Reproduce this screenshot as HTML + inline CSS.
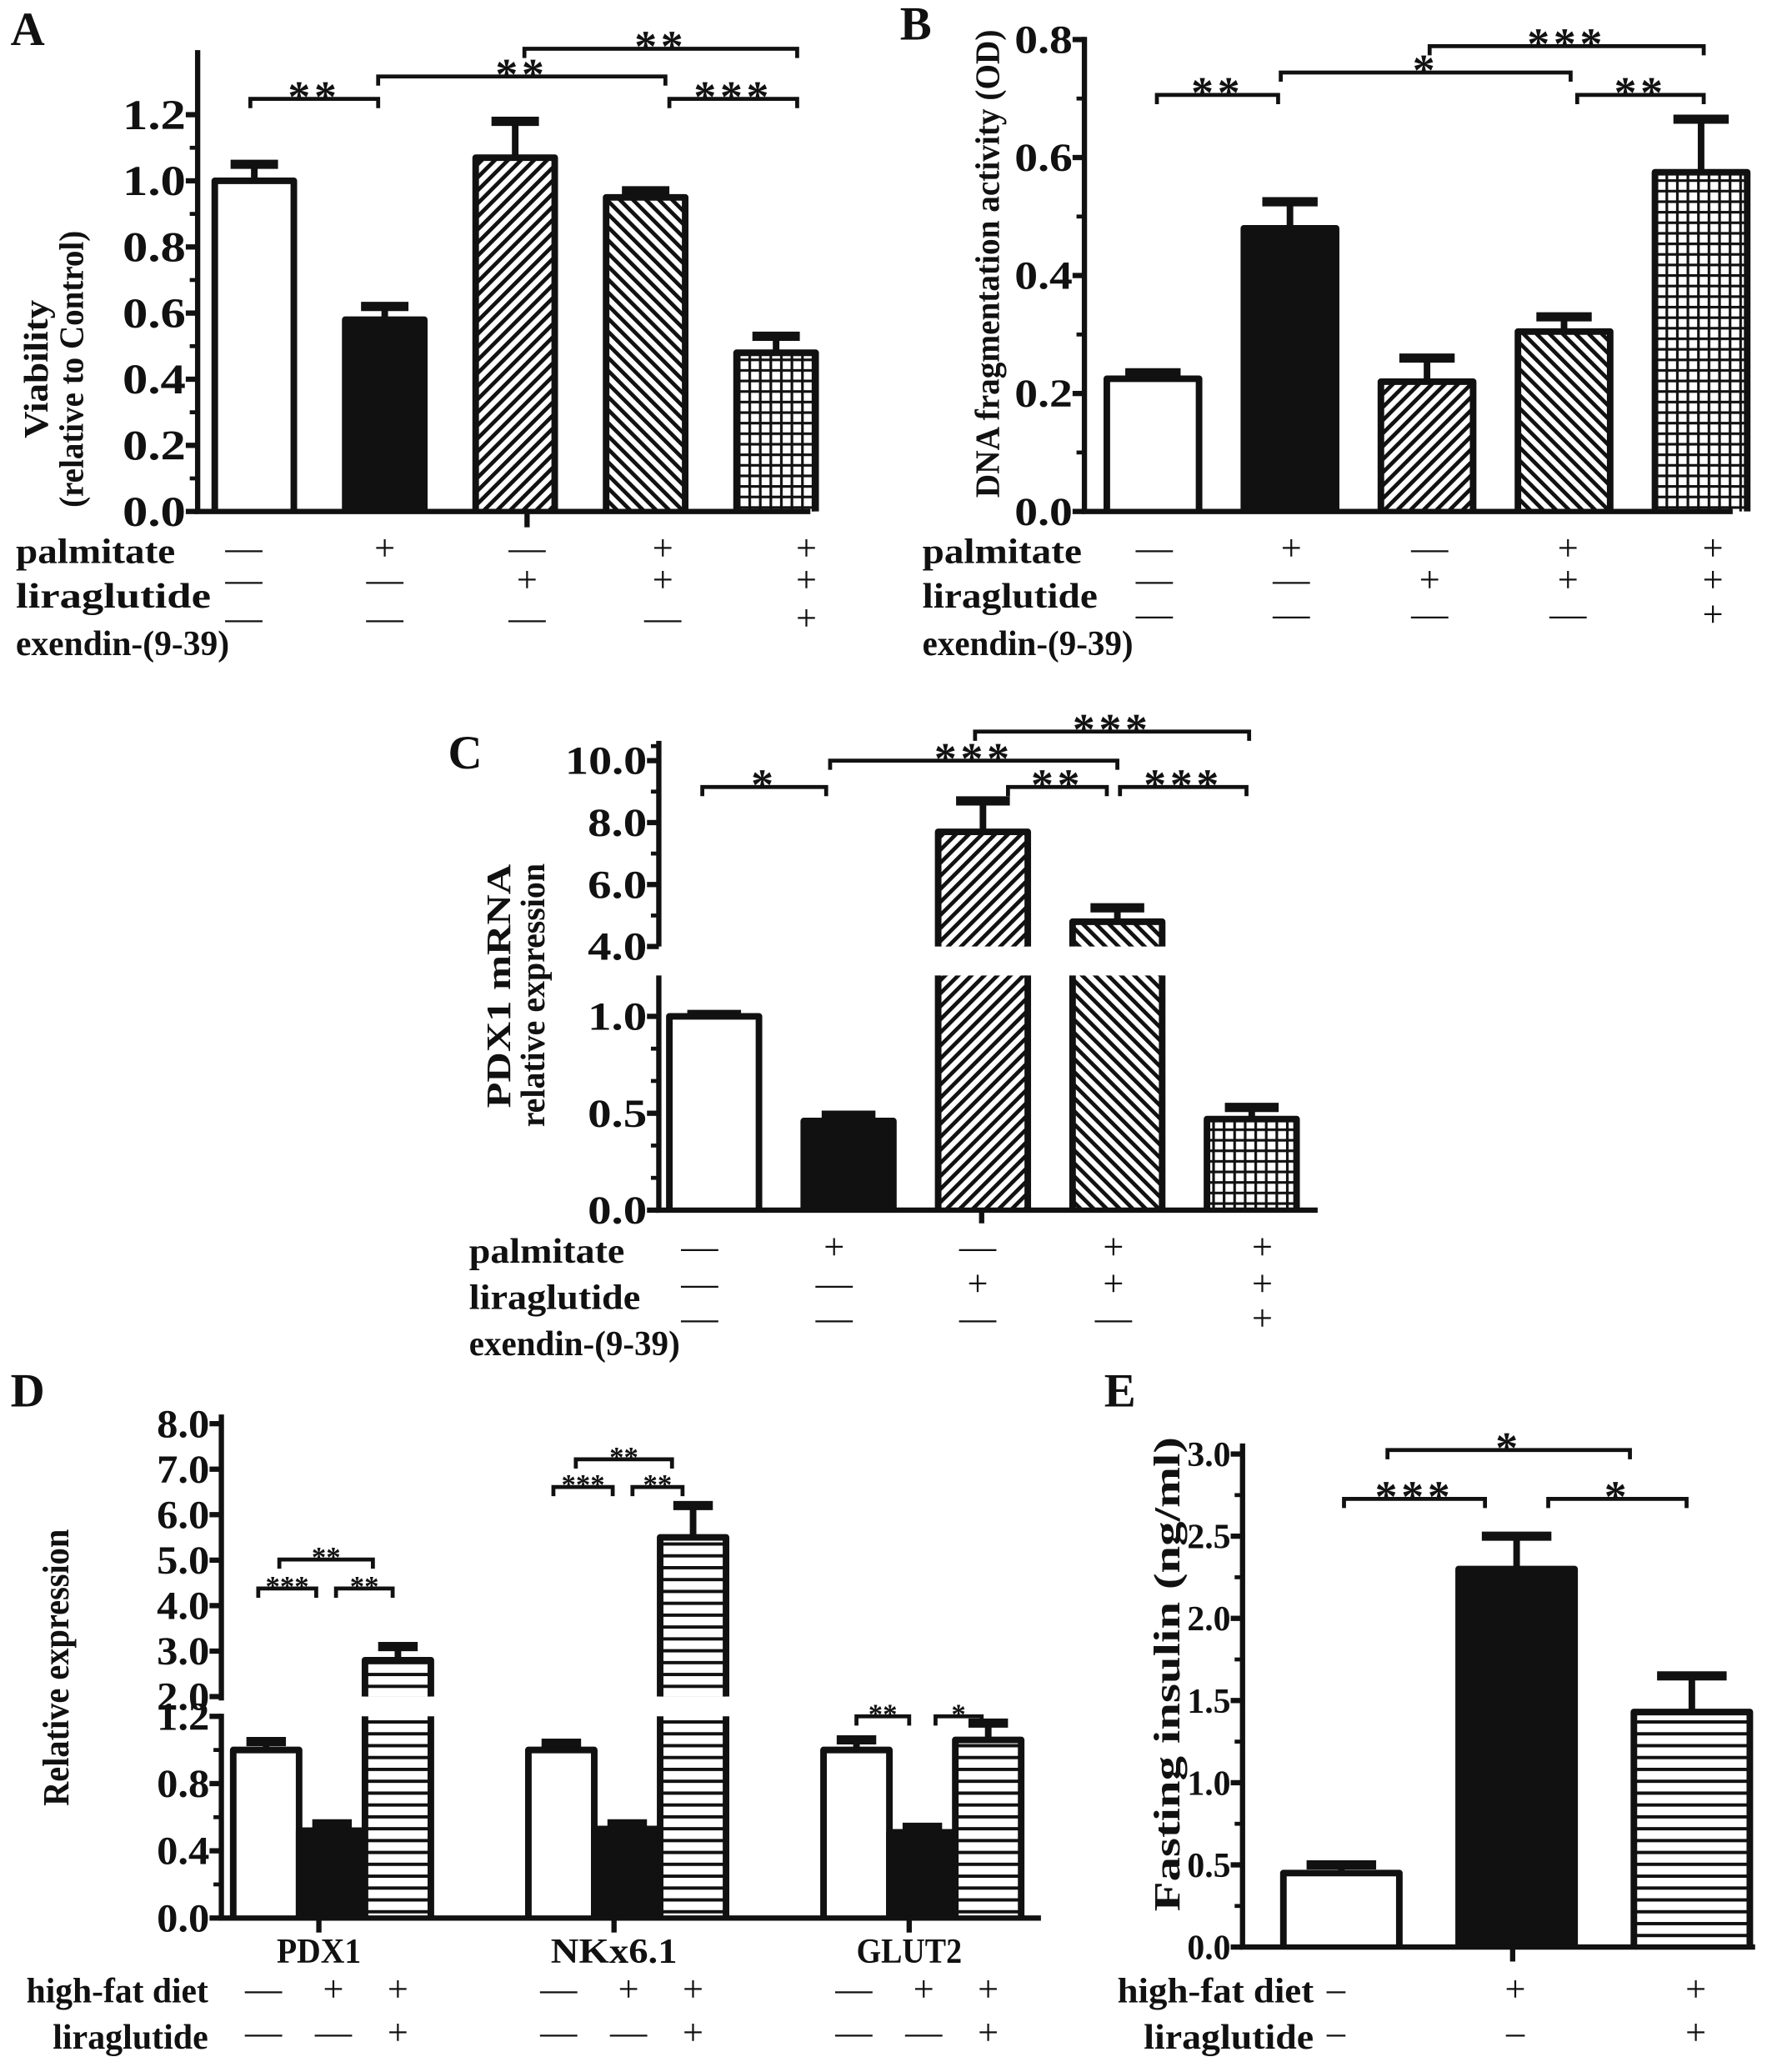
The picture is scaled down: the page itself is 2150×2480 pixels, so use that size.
<!DOCTYPE html>
<html><head><meta charset="utf-8"><style>
html,body{margin:0;padding:0;background:#fff;}
svg{display:block;}
</style></head><body>
<svg id="fig" width="2150" height="2480" viewBox="0 0 1360 1568" preserveAspectRatio="none" xmlns="http://www.w3.org/2000/svg" font-family="Liberation Serif, serif" font-weight="bold">
<defs>
<pattern id="hatchF" patternUnits="userSpaceOnUse" width="7" height="7" patternTransform="rotate(45)"><rect width="7" height="7" fill="#fff"/><rect width="3" height="7" fill="#111"/></pattern>
<pattern id="hatchB" patternUnits="userSpaceOnUse" width="7" height="7" patternTransform="rotate(-45)"><rect width="7" height="7" fill="#fff"/><rect width="3" height="7" fill="#111"/></pattern>
<pattern id="grid" patternUnits="userSpaceOnUse" width="8" height="8"><rect width="8" height="8" fill="#111"/><rect x="2" y="2" width="6" height="6" fill="#fff"/></pattern>
<pattern id="hstripe" patternUnits="userSpaceOnUse" width="8" height="9"><rect width="8" height="9" fill="#fff"/><rect width="8" height="2.5" fill="#111"/></pattern>
</defs>
</svg>
<script>
// ---- Panel A data ----
const aCats=['control','palmitate','liraglutide','palm-lira','palm-lira-exendin'];
const aVals=[1.0,0.58,1.07,0.95,0.48];
const aErr=[0.05,0.04,0.11,0.02,0.05];
const aTicks=[0,0.2,0.4,0.6,0.8,1.0,1.2];
// ---- Panel B data ----
const bVals=[0.225,0.48,0.22,0.305,0.575];
const bErr=[0.01,0.045,0.04,0.025,0.09];
const bTicks=[0,0.2,0.4,0.6,0.8];
// ---- Panel C data ----
const cVals=[1.0,0.46,7.7,4.8,0.47];
const cErr=[0.01,0.03,1.0,0.45,0.06];
const cTicksLow=[0,0.5,1.0];
const cTicksHigh=[4,6,8,10];
// ---- Panel D data ----
const dGenes=['PDX1','NKx6.1','GLUT2'];
const dControl=[1.0,1.0,1.0];
const dHFD=[0.52,0.53,0.51];
const dHFDLira=[2.8,5.5,1.06];
const dErrControl=[0.05,0.04,0.06];
const dErrHFD=[0.04,0.03,0.03];
const dErrHFDLira=[0.3,0.7,0.1];
const dTicksLow=[0,0.4,0.8,1.2];
const dTicksHigh=[2,3,4,5,6,7,8];
// ---- Panel E data ----
const eVals=[0.45,2.3,1.43];
const eErr=[0.05,0.2,0.22];
const eTicks=[0,0.5,1.0,1.5,2.0,2.5,3.0];

const svg=document.getElementById('fig');
const NS='http://www.w3.org/2000/svg';
function mk(tag,attrs,parent){const e=document.createElementNS(NS,tag);for(const k in attrs)e.setAttribute(k,attrs[k]);(parent||svg).appendChild(e);return e;}
function line(x1,y1,x2,y2,w,p){return mk('line',{x1,y1,x2,y2,stroke:'#111','stroke-width':w||4},p);}
function txt(x,y,s,size,anchor,p,len,extra){const a=Object.assign({x,y,'font-size':size,'text-anchor':anchor||'start',fill:'#111'},extra||{});if(len){a.textLength=len;a.lengthAdjust='spacingAndGlyphs';}const t=mk('text',a,p);t.textContent=s;return t;}
function group(name){const g=mk('g',{});return g;}
function fmt(v){return v.toFixed(1);}
let TW=47, TS=32;
function tickLabel(g,x,y,t){const l=txt(x-9,y+TS*0.34,fmt(t),TS,'end',g,t>=10?TW*1.38:TW);}
function yAxis(g,x,yTop,yBot,ticks,sc,minorCount){
  const ax=line(x,yTop,x,yBot,4,g);
  
  ticks.forEach((t,i)=>{const y=sc(t);line(x-9,y,x,y,4,g);tickLabel(g,x,y,t);
    if(i<ticks.length-1&&minorCount){const y2=sc(ticks[i+1]);for(let k=1;k<=minorCount;k++){const ym=y+(y2-y)*k/(minorCount+1);line(x-6,ym,x,ym,3,g);}}
  });
}
function bar(g,cx,w,yTop,yBot,fill,name,mode){
  const x0=cx-w/2,x1=cx+w/2;
  const r=mk('rect',{x:x0,y:yTop,width:w,height:yBot-yTop,fill},g);
  
  let d;
  if(mode==='lower')d=`M${x0},${yTop} V${yBot} M${x1},${yTop} V${yBot}`;
  else d=`M${x0},${yBot} V${yTop} H${x1} V${yBot}`;
  mk('path',{d,fill:'none',stroke:'#111','stroke-width':5,'stroke-linejoin':'round'},g);
  return r;
}
function errbar(g,cx,w,y,ye){
  line(cx,y,cx,ye,5,g);
  const c=line(cx-w*0.3,ye,cx+w*0.3,ye,7,g);
  
}
function bracket(g,x1,x2,y,stars,size){
  const p=mk('path',{d:`M${x1},${y+7} V${y} H${x2} V${y+7}`,fill:'none',stroke:'#111','stroke-width':3},g);
  
  const s=size||34;
  const t=txt((x1+x2)/2,y-2+s*0.35,stars,s,'middle',g,null,{'letter-spacing':size?'0':'3'});
  
}
function signRows(g,xs,rows,ys,minus){
  rows.forEach((row,ri)=>row.forEach((s,i)=>{if(!s)return;const t=txt(xs[i],ys[ri],s==='+'?'+':(minus||'—'),28,'middle',g,null,{'font-weight':'normal'});}));
}
function rowLabel(g,x,y,s,len,size){const t=txt(x,y,s,size||27,'start',g,len);}
function yTitle(g,x,cy,s,len,size){const t=txt(0,0,s,size||26,'middle',g,len,{transform:`translate(${x},${cy}) rotate(-90)`});}
function panelLabel(x,y,s){const t=txt(x,y,s,36,'start');}
const fills5=['#fff','#111','url(#hatchF)','url(#hatchB)','url(#grid)'];
const palm=['-','+','-','+','+'],lira=['-','-','+','+','+'],exen=['-','-','-','-','+'];

// ===== Panel A =====
(function(){
  TW=48;TS=32;
  const g=group('panel-a-viability-chart');
  const base=388, top=87, sc=v=>base-(base-top)*v/1.2;
  const xc=i=>193+i*99, w=60;
  yAxis(g,150,38,base,aTicks,sc,1);
  aVals.forEach((v,i)=>{errbar(g,xc(i),w,sc(v),sc(v+aErr[i]));bar(g,xc(i),w,sc(v),base,fills5[i],'bar-'+aCats[i]);});
  line(148,base,615,base,4,g);line(400,base,400,400,4,g);
  bracket(g,190,287,75,'**');bracket(g,287,505,58,'**');bracket(g,398,605,37,'**');bracket(g,508,605,75,'***');
  yTitle(g,36,280,'Viability',105);
  yTitle(g,63,280,'(relative to Control)',210);
  rowLabel(g,12,427,'palmitate',121);rowLabel(g,12,461,'liraglutide',148);rowLabel(g,12,497,'exendin-(9-39)',162);
  signRows(g,[185,292,400,503,612],[palm,lira,exen],[425,449,478]);
})();
panelLabel(8,34,'A');

// ===== Panel B =====
(function(){
  TW=44;TS=30;
  const g=group('panel-b-dna-fragmentation-chart');
  const base=388, top=30, sc=v=>base-(base-top)*v/0.8;
  const xc=i=>875+i*104, w=70;
  yAxis(g,823,28,base,bTicks,sc,1);
  bVals.forEach((v,i)=>{errbar(g,xc(i),w,sc(v),sc(v+bErr[i]));bar(g,xc(i),w,sc(v),base,fills5[i],'bar-'+aCats[i]);});
  line(821,base,1315,base,4,g);
  bracket(g,878,970,72,'**');bracket(g,972,1192,55,'*');bracket(g,1085,1293,35,'***');bracket(g,1197,1293,72,'**');
  yTitle(g,758,200,'DNA fragmentation activity (OD)',355);
  rowLabel(g,700,427,'palmitate',121);rowLabel(g,700,461,'liraglutide',133);rowLabel(g,700,497,'exendin-(9-39)',160);
  signRows(g,[876,980,1085,1190,1300],[palm,lira,exen],[425,449,475]);
})();
panelLabel(683,30,'B');

// ===== Panel C =====
(function(){
  TW=45;TS=30;
  const g=group('panel-c-pdx1-mrna-chart');
  const base=918, scL=v=>base-(base-771)*v/1.0, scH=v=>718-(718-577)*(v-4)/6;
  const xc=i=>542+i*102, w=68;
  line(500,562,500,718,4,g);
  cTicksHigh.forEach((t,i)=>{const y=scH(t);line(491,y,500,y,4,g);tickLabel(g,500,y,t);
    if(i<cTicksHigh.length-1){const ym=(y+scH(cTicksHigh[i+1]))/2;line(494,ym,500,ym,3,g);}});
  line(494,566,500,566,3,g);
  yAxis(g,500,740,base,cTicksLow,scL,2);
  cVals.forEach((v,i)=>{
    if(v>4){const yt=scH(v);errbar(g,xc(i),w,yt,scH(v+cErr[i]));
      bar(g,xc(i),w,yt,718,fills5[i],'bar-'+aCats[i]+'-upper','upper');
      bar(g,xc(i),w,740,base,fills5[i],'bar-'+aCats[i]+'-lower','lower');
    } else {errbar(g,xc(i),w,scL(v),scL(v+cErr[i]));bar(g,xc(i),w,scL(v),base,fills5[i],'bar-'+aCats[i]);}
  });
  line(498,base,1000,base,4,g);line(745,base,745,928,4,g);
  bracket(g,533,627,597,'*');bracket(g,630,848,577,'***');bracket(g,740,948,555,'***');bracket(g,765,840,597,'**');bracket(g,850,946,597,'***');
  yTitle(g,387,748,'PDX1 mRNA',185);
  yTitle(g,413,755,'relative expression',200);
  rowLabel(g,356,958,'palmitate',118);rowLabel(g,356,993,'liraglutide',130);rowLabel(g,356,1028,'exendin-(9-39)',160);
  signRows(g,[531,633,742,845,958],[palm,lira,exen],[955,983,1009]);
})();
panelLabel(340,583,'C');

// ===== Panel D =====
(function(){
  TW=40;TS=30;
  const g=group('panel-d-relative-expression-chart');
  const base=1455, scL=v=>base-(base-1302)*v/1.2, scH=v=>1287-(1287-1080)*(v-2)/6;
  const gc=[252,476,700], w=50, off=[-50,0,50];
  const fills=['#fff','#111','url(#hstripe)'];
  line(168,1073,168,1290,4,g);
  dTicksHigh.forEach(t=>{const y=scH(t);line(159,y,168,y,4,g);tickLabel(g,168,y,t);});
  yAxis(g,168,1300,base,dTicksLow,scL,1);
  const series=[[dControl,dErrControl,'control'],[dHFD,dErrHFD,'high-fat-diet'],[dHFDLira,dErrHFDLira,'hfd-liraglutide']];
  dGenes.forEach((gene,gi)=>{series.forEach((s,si)=>{const v=s[0][gi],e=s[1][gi],cx=gc[gi]+off[si];const nm='bar-'+gene.toLowerCase().replace('.','')+'-'+s[2];
    if(v>1.2){errbar(g,cx,w,scH(v),scH(v+e));bar(g,cx,w,scH(v),1287,fills[si],nm+'-upper','upper');bar(g,cx,w,1302,base,fills[si],nm+'-lower','lower');}
    else{errbar(g,cx,w,scL(v),scL(v+e));bar(g,cx,w,scL(v),base,fills[si],nm);}
  });
  const cl=txt(gc[gi]-10,1489,gene,27,'middle',g,gene.length*16);
  line(gc[gi]-10,base,gc[gi]-10,1466,4,g);
  signRows(g,[gc[gi]-52,gc[gi]+1,gc[gi]+50],[['-','+','+'],['-','-','+']],[1518,1551]);
  });
  line(166,base,790,base,4,g);
  bracket(g,196,240,1205,'***',22);bracket(g,255,298,1205,'**',22);bracket(g,212,283,1183,'**',22);
  bracket(g,420,465,1128,'***',22);bracket(g,480,518,1128,'**',22);bracket(g,437,510,1107,'**',22);
  bracket(g,650,690,1302,'**',22);bracket(g,710,745,1302,'*',22);
  yTitle(g,52,1265,'Relative expression',210,28);
  rowLabel(g,20,1519,'high-fat diet',138);rowLabel(g,40,1554,'liraglutide',118);
})();
panelLabel(8,1067,'D');

// ===== Panel E =====
(function(){
  TW=33;TS=27;
  const g=group('panel-e-fasting-insulin-chart');
  const base=1477, sc=v=>base-(base-1103)*v/3.0;
  const xc=i=>1018+i*133, w=88;
  const fills=['#fff','#111','url(#hstripe)'];
  const names=['control','high-fat-diet','hfd-liraglutide'];
  yAxis(g,943,1095,base,eTicks,sc,1);
  eVals.forEach((v,i)=>{errbar(g,xc(i),w,sc(v),sc(v+eErr[i]));bar(g,xc(i),w,sc(v),base,fills[i],'bar-'+names[i]);});
  line(941,base,1332,base,4,g);line(1148,base,1148,1488,4,g);
  bracket(g,1020,1127,1137,'***');bracket(g,1053,1237,1100,'*');bracket(g,1175,1280,1137,'*');
  yTitle(g,895,1270,'Fasting insulin (ng/ml)',360,28);
  rowLabel(g,848,1519,'high-fat diet',149);rowLabel(g,868,1554,'liraglutide',129);
  signRows(g,[1014,1150,1287],[['-','+','+'],['-','-','+']],[1518,1551],'–');
})();
panelLabel(838,1067,'E');
</script>
</body></html>
